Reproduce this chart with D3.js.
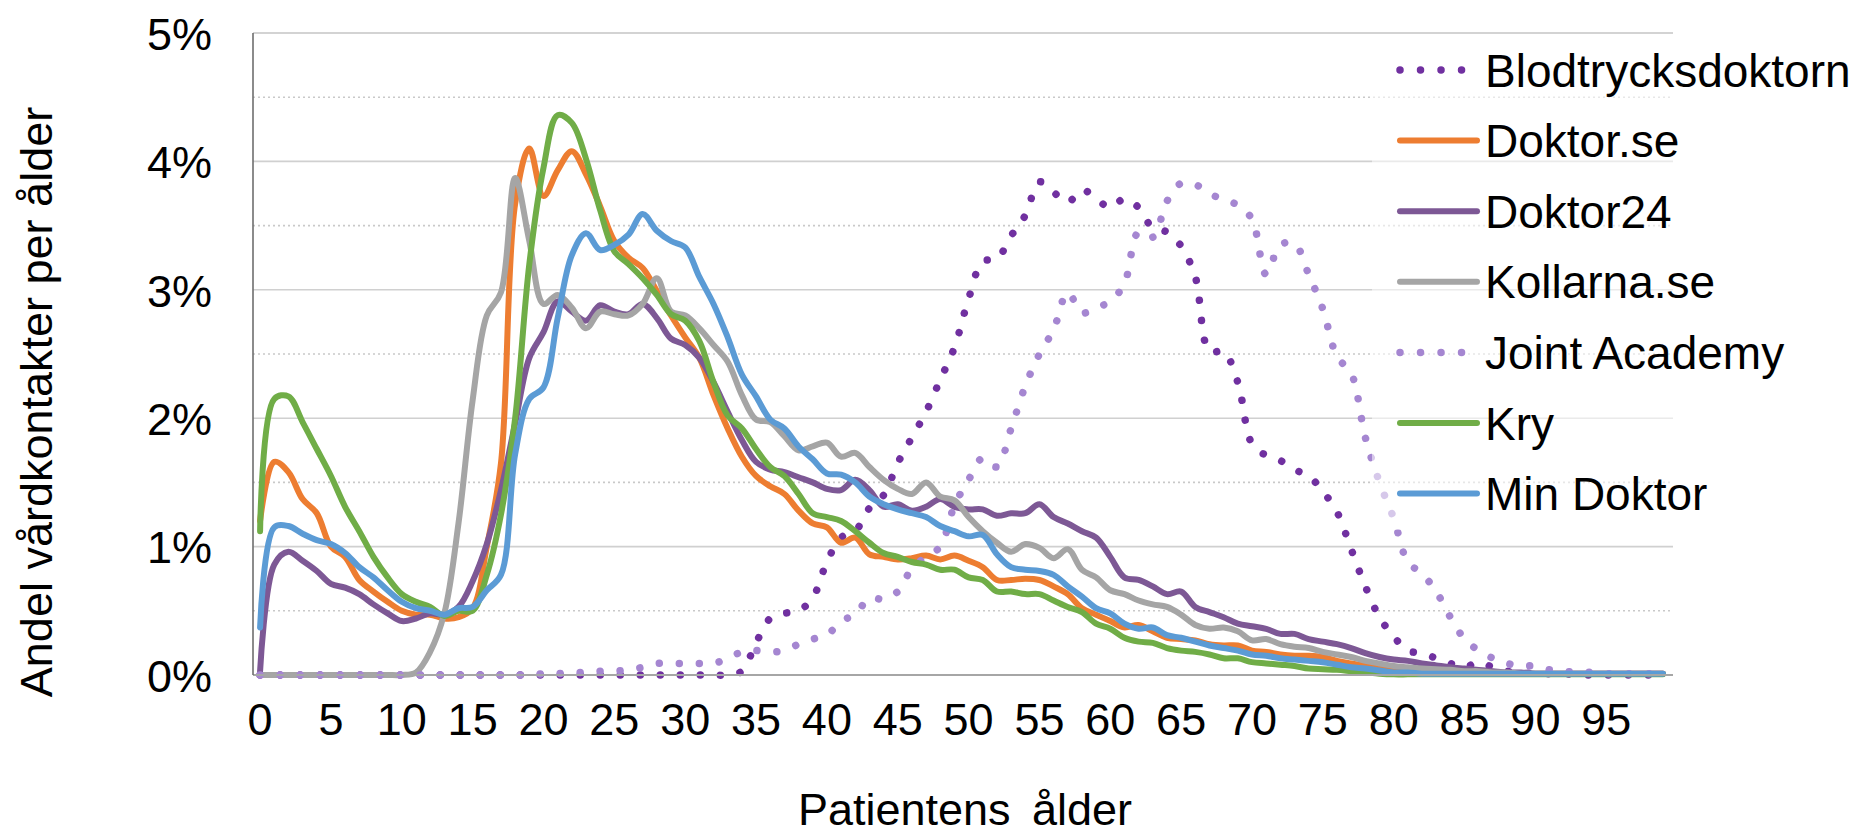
<!DOCTYPE html>
<html><head><meta charset="utf-8">
<script src="https://cdn.jsdelivr.net/npm/d3@7"></script>
<style>
html,body{margin:0;padding:0;background:#fff;}
svg{display:block;}
text{font-family:"Liberation Sans", Arial, Helvetica, sans-serif; fill:#000;}
</style></head><body>
<svg id="chart" width="1867" height="836"></svg>
<script>
// ---- categories (age, years) ----
const ages = d3.range(0, 100);
const xTickLabels = [0,5,10,15,20,25,30,35,40,45,50,55,60,65,70,75,80,85,90,95];
const yTickValues = [0,1,2,3,4,5]; // percent
const yMinorValues = [0.5,1.5,2.5,3.5,4.5];

// ---- series values (percent of contacts per age, ages 0..99) ----
const blodtrycksdoktorn = [
 0,0,0,0,0,0,0,0,0,0,
 0,0,0,0,0,0,0,0,0,0,
 0,0,0,0,0,0,0,0,0,0,
 0,0,0,0,0.03,0.25,0.44,0.48,0.50,0.60,
 0.88,1.07,1.12,1.30,1.40,1.65,1.85,2.05,2.30,2.55,
 2.93,3.22,3.24,3.42,3.58,3.84,3.76,3.68,3.78,3.71,
 3.64,3.71,3.64,3.48,3.45,3.34,3.10,2.52,2.52,2.28,
 1.80,1.71,1.67,1.60,1.55,1.43,1.27,0.98,0.69,0.45,
 0.30,0.19,0.17,0.13,0.09,0.06,0.10,0.06,0.03,0.02,
 0.01,0.01,0.01,0,0,0,0,0,0,0];
const doktorSe = [
 1.20,1.66,1.58,1.37,1.26,1.00,0.92,0.74,0.65,0.57,
 0.50,0.47,0.47,0.44,0.45,0.52,1.00,1.65,3.67,4.10,
 3.73,3.93,4.08,3.90,3.65,3.38,3.25,3.17,2.99,2.80,
 2.63,2.47,2.18,1.92,1.70,1.55,1.47,1.41,1.28,1.18,
 1.15,1.03,1.07,0.94,0.92,0.90,0.91,0.93,0.90,0.93,
 0.89,0.84,0.74,0.74,0.75,0.74,0.69,0.63,0.52,0.47,
 0.42,0.37,0.39,0.34,0.29,0.28,0.27,0.24,0.23,0.23,
 0.19,0.18,0.16,0.15,0.15,0.14,0.11,0.09,0.07,0.05,
 0.03,0.02,0.02,0.01,0.01,0.01,0.01,0.01,0.01,0.01,
 0.01,0.01,0.01,0.01,0.01,0.01,0.01,0.01,0.01,0.01];
const doktor24 = [
 0.03,0.86,0.96,0.89,0.81,0.71,0.68,0.63,0.55,0.48,
 0.42,0.44,0.48,0.47,0.53,0.73,1.02,1.44,1.96,2.47,
 2.67,2.91,2.83,2.76,2.88,2.83,2.81,2.89,2.78,2.62,
 2.57,2.47,2.28,2.05,1.83,1.66,1.60,1.58,1.54,1.50,
 1.45,1.44,1.52,1.44,1.31,1.33,1.28,1.31,1.37,1.31,
 1.29,1.29,1.24,1.26,1.26,1.33,1.23,1.18,1.12,1.07,
 0.92,0.76,0.74,0.69,0.63,0.65,0.53,0.49,0.45,0.40,
 0.38,0.36,0.32,0.32,0.28,0.26,0.24,0.21,0.17,0.14,
 0.12,0.11,0.09,0.075,0.06,0.05,0.04,0.03,0.02,0.02,
 0.01,0.01,0.01,0.01,0.01,0.01,0.01,0.01,0.01,0.01];
const kollarnaSe = [
 0,0,0,0,0,0,0,0,0,0,
 0,0.02,0.18,0.48,1.18,2.14,2.80,2.98,3.87,3.38,
 2.89,2.96,2.86,2.70,2.83,2.81,2.80,2.89,3.09,2.83,
 2.80,2.70,2.57,2.44,2.18,1.99,1.97,1.86,1.75,1.78,
 1.81,1.70,1.73,1.62,1.52,1.45,1.41,1.50,1.39,1.36,
 1.23,1.12,1.03,0.96,1.02,0.99,0.91,0.98,0.82,0.76,
 0.66,0.63,0.58,0.55,0.53,0.47,0.39,0.36,0.37,0.34,
 0.27,0.28,0.24,0.22,0.21,0.18,0.16,0.14,0.11,0.09,
 0.07,0.06,0.05,0.045,0.04,0.03,0.03,0.02,0.02,0.01,
 0.01,0.01,0.01,0.01,0.01,0.01,0.01,0.01,0.01,0.01];
const jointAcademy = [
 0,0,0,0,0,0,0,0,0,0,
 0,0,0,0,0,0,0,0,0,0,
 0.01,0.01,0.02,0.02,0.03,0.03,0.04,0.06,0.09,0.09,
 0.09,0.09,0.09,0.13,0.18,0.19,0.18,0.19,0.24,0.28,
 0.31,0.42,0.47,0.60,0.59,0.65,0.83,0.92,1.00,1.32,
 1.52,1.69,1.62,1.92,2.25,2.50,2.69,2.98,2.82,2.86,
 2.91,3.05,3.45,3.41,3.69,3.83,3.82,3.75,3.70,3.66,
 3.55,3.12,3.35,3.36,3.12,2.85,2.48,2.35,1.85,1.50,
 1.22,0.88,0.79,0.65,0.45,0.28,0.19,0.13,0.09,0.07,
 0.07,0.04,0.03,0.02,0.02,0.01,0.01,0.01,0.01,0.01];
const kry = [
 1.12,2.15,2.17,1.97,1.76,1.55,1.31,1.12,0.92,0.76,
 0.63,0.57,0.53,0.46,0.50,0.50,0.78,1.25,2.00,3.20,
 3.95,4.36,4.30,4.02,3.62,3.30,3.20,3.09,2.96,2.81,
 2.76,2.60,2.28,2.02,1.92,1.76,1.62,1.55,1.41,1.26,
 1.23,1.20,1.12,1.03,0.95,0.92,0.88,0.86,0.82,0.82,
 0.76,0.74,0.65,0.65,0.63,0.63,0.58,0.53,0.49,0.40,
 0.36,0.29,0.26,0.25,0.21,0.19,0.18,0.16,0.13,0.13,
 0.10,0.09,0.08,0.07,0.05,0.045,0.04,0.03,0.02,0.01,
 0.005,0.005,0.005,0.005,0.005,0.005,0.005,0.005,0.005,0.005,
 0.005,0.005,0.005,0.005,0.005,0.005,0.005,0.005,0.005,0.005];
const minDoktor = [
 0.37,1.15,1.16,1.10,1.05,1.02,0.95,0.84,0.76,0.66,
 0.57,0.52,0.50,0.47,0.52,0.53,0.66,0.78,1.72,2.15,
 2.24,2.78,3.27,3.44,3.31,3.35,3.43,3.59,3.46,3.38,
 3.33,3.10,2.89,2.63,2.34,2.17,1.99,1.92,1.78,1.68,
 1.57,1.56,1.50,1.39,1.33,1.29,1.26,1.23,1.16,1.12,
 1.08,1.09,0.94,0.84,0.82,0.81,0.78,0.69,0.61,0.52,
 0.48,0.40,0.36,0.37,0.31,0.29,0.26,0.23,0.21,0.19,
 0.16,0.15,0.13,0.12,0.11,0.10,0.08,0.06,0.05,0.035,
 0.02,0.02,0.01,0.01,0.01,0.01,0.01,0.01,0.01,0.01,
 0.01,0.01,0.01,0.01,0.01,0.01,0.01,0.01,0.01,0.01];

const seriesNames = ["Blodtrycksdoktorn","Doktor.se","Doktor24","Kollarna.se","Joint Academy","Kry","Min Doktor"];
const seriesValues = [blodtrycksdoktorn, doktorSe, doktor24, kollarnaSe, jointAcademy, kry, minDoktor];
const seriesColors = ["#7030A0","#ED7D31","#7D5895","#A5A5A5","#A586D1","#70AD47","#5B9BD5"];
const seriesDotted = [true,false,false,false,true,false,false];

const xTitle = "Patientens ålder";
const yTitle = "Andel vårdkontakter per ålder";

// ---- layout ----
const svg = d3.select("#chart");
const plotLeft = 253, plotRight = 1670, plotTop = 33, plotBottom = 675;
const FONT = 45;

const x = d3.scaleBand().domain(ages).range([plotLeft, plotRight]).paddingInner(0).paddingOuter(0);
const xc = a => x(a) + x.bandwidth() / 2;
const y = d3.scaleLinear().domain([0, 5]).range([plotBottom, plotTop]);

// minor (dotted) gridlines
svg.append("g").selectAll("line").data(yMinorValues).join("line")
  .attr("x1", plotLeft).attr("x2", plotRight + 3)
  .attr("y1", d => y(d)).attr("y2", d => y(d))
  .attr("stroke", "#C9C9C9").attr("stroke-width", 1.6)
  .attr("stroke-dasharray", "2,3");

// major gridlines
svg.append("g").selectAll("line").data(yTickValues.filter(d => d > 0)).join("line")
  .attr("x1", plotLeft).attr("x2", plotRight + 3)
  .attr("y1", d => y(d)).attr("y2", d => y(d))
  .attr("stroke", "#D0D0D0").attr("stroke-width", 1.6);

// series
const line = d3.line()
  .x((d, i) => xc(ages[i]))
  .y(d => y(d))
  .curve(d3.curveCatmullRom.alpha(0.5));

const gSeries = svg.append("g");
seriesValues.forEach((vals, k) => {
  const p = gSeries.append("path")
    .attr("d", line(vals))
    .attr("fill", "none")
    .attr("stroke", seriesColors[k])
    .attr("stroke-linejoin", "round");
  if (seriesDotted[k]) {
    p.attr("stroke-width", 7.5).attr("stroke-linecap", "round").attr("stroke-dasharray", "0.01 20");
  } else {
    p.attr("stroke-width", 6).attr("stroke-linecap", "round");
  }
});

// axes
const xAxis = d3.axisBottom(x).tickValues(xTickLabels).tickSize(0).tickPadding(0);
const gx = svg.append("g").attr("transform", `translate(0,${plotBottom})`).call(xAxis);
gx.select(".domain").remove();
gx.selectAll("text").attr("font-size", FONT).attr("y", 0).attr("dy", null)
  .attr("transform", "translate(0,60)")
  .style("font-family", '"Liberation Sans", Arial, sans-serif').attr("fill", "#000");

const yAxis = d3.axisLeft(y).tickValues(yTickValues).tickSize(0).tickPadding(0).tickFormat(d => d + "%");
const gy = svg.append("g").attr("transform", `translate(212,0)`).call(yAxis);
gy.select(".domain").remove();
gy.selectAll("text").attr("font-size", FONT).attr("x", 0).attr("dy", "0.36em")
  .style("font-family", '"Liberation Sans", Arial, sans-serif').attr("fill", "#000");

// axis lines
svg.append("line").attr("x1", plotLeft).attr("x2", plotRight + 3)
  .attr("y1", plotBottom).attr("y2", plotBottom)
  .attr("stroke", "#A6A6A6").attr("stroke-width", 2);
svg.append("line").attr("x1", plotLeft).attr("x2", plotRight + 3)
  .attr("y1", plotTop).attr("y2", plotTop)
  .attr("stroke", "#D0D0D0").attr("stroke-width", 1.6);
svg.append("line").attr("x1", plotLeft).attr("x2", plotLeft)
  .attr("y1", plotTop).attr("y2", plotBottom)
  .attr("stroke", "#6E6E6E").attr("stroke-width", 1.6);

// axis titles
svg.append("text").attr("x", 965).attr("y", 825).attr("text-anchor", "middle")
  .attr("font-size", FONT).attr("word-spacing", 9).text(xTitle);
svg.append("text").attr("transform", "translate(52,402) rotate(-90)").attr("text-anchor", "middle")
  .attr("font-size", FONT).text(yTitle);

// legend
svg.append("rect").attr("x", 1372).attr("y", 38).attr("width", 495).attr("height", 492)
  .attr("fill", "#fff").attr("fill-opacity", 0.55);
const legendY0 = 70, legendStep = 70.6;
const gLeg = svg.append("g");
seriesNames.forEach((name, k) => {
  const ly = legendY0 + k * legendStep;
  const l = gLeg.append("line").attr("x1", 1400).attr("x2", 1477)
    .attr("y1", ly).attr("y2", ly).attr("stroke", seriesColors[k]);
  if (seriesDotted[k]) {
    l.attr("x2", 1462).attr("stroke-width", 7.5).attr("stroke-linecap", "round").attr("stroke-dasharray", "0.01 20.5");
  } else {
    l.attr("stroke-width", 6).attr("stroke-linecap", "round");
  }
  gLeg.append("text").attr("x", 1485).attr("y", ly).attr("dy", "0.36em")
    .attr("font-size", 46).text(name);
});
</script>
</body></html>
